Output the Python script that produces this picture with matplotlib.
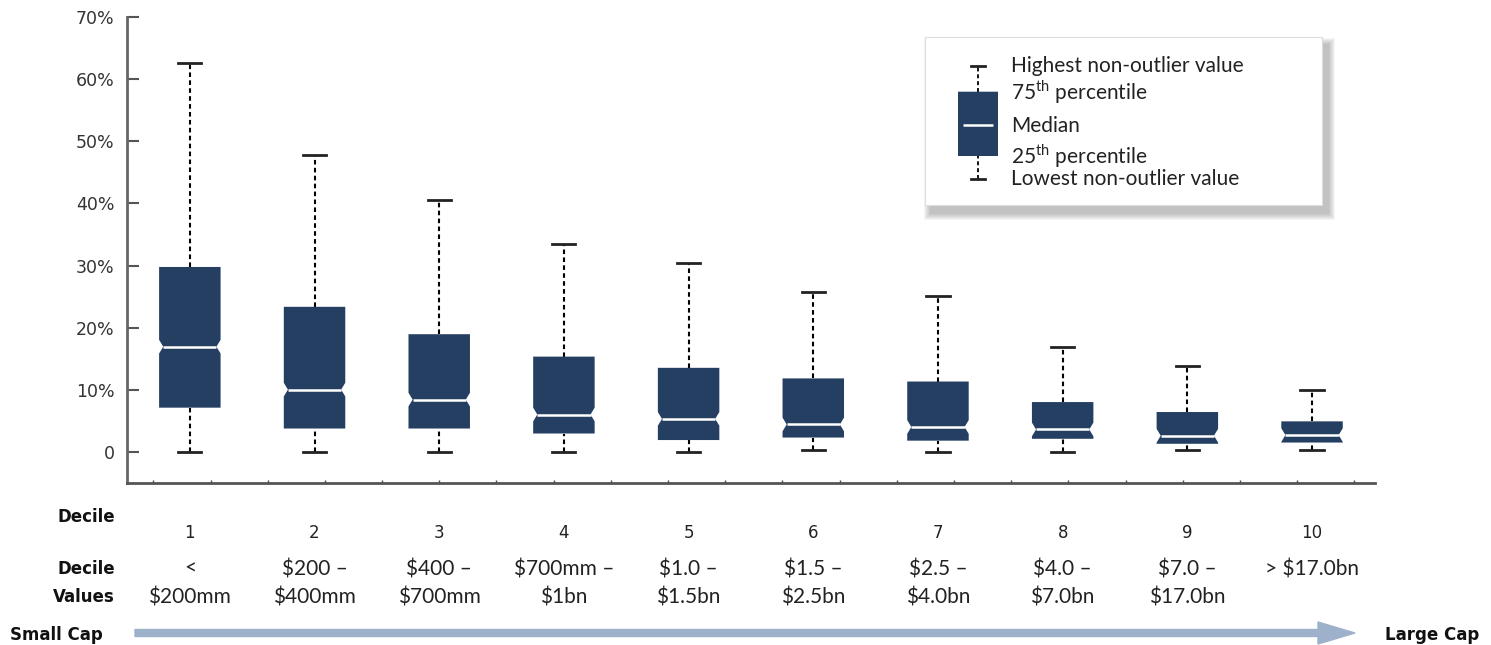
import matplotlib
matplotlib.use("Agg")
import matplotlib.pyplot as plt
from matplotlib.patches import Polygon, Rectangle, FancyArrow
from matplotlib.ticker import FuncFormatter, MultipleLocator
from matplotlib.transforms import blended_transform_factory

# values, in percent
deciles = ["1", "2", "3", "4", "5", "6", "7", "8", "9", "10"]
decile_values = ["<\n\\$200mm", "\\$200 –\n\\$400mm", "\\$400 –\n\\$700mm", "\\$700mm –\n\\$1bn",
                 "\\$1.0 –\n\\$1.5bn", "\\$1.5 –\n\\$2.5bn", "\\$2.5 –\n\\$4.0bn", "\\$4.0 –\n\\$7.0bn",
                 "\\$7.0 –\n\\$17.0bn", "> \\$17.0bn"]
whis_lo = [0.0, 0.0, 0.0, 0.0, 0.0, 0.4, 0.0, 0.0, 0.4, 0.4]
q1 = [7.2, 3.85, 3.85, 3.05, 2.0, 2.4, 1.9, 2.2, 1.4, 1.6]
median = [17.0, 10.1, 8.5, 6.1, 5.4, 4.5, 4.1, 3.7, 2.7, 2.8]
q3 = [29.8, 23.4, 19.0, 15.4, 13.6, 11.9, 11.4, 8.1, 6.5, 5.0]
whis_hi = [62.6, 47.8, 40.6, 33.5, 30.5, 25.7, 25.1, 17.0, 13.9, 10.1]
yticks = [0, 10, 20, 30, 40, 50, 60, 70]

legend_labels = ["Highest non-outlier value", "75$^{\\mathregular{th}}$ percentile", "Median",
                 "25$^{\\mathregular{th}}$ percentile", "Lowest non-outlier value"]
# legend sample box, in pixels below the top of the legend frame
legend_sample = [142, 119, 88, 54.7, 28.7]

NAVY = "#243f62"
ARROW = "#9db2ca"
W, H = 1491, 645


def draw_box(ax, x, lo, a, m, b, hi, width, nh, nd, capw, lw=1.5):
    l, r = x - width / 2, x + width / 2
    pts = [(l, a), (r, a), (r, m - nh), (r - nd, m), (r, m + nh), (r, b),
           (l, b), (l, m + nh), (l + nd, m), (l, m - nh)]
    ax.add_patch(Polygon(pts, closed=True, facecolor=NAVY, edgecolor="none", zorder=3))
    ax.plot([l + nd, r - nd], [m, m], color="white", lw=1.8, zorder=4, solid_capstyle="butt")
    ax.plot([x, x], [b, hi], color="black", lw=lw, ls=(0, (2.2, 1.6)), zorder=2)
    ax.plot([x, x], [lo, a], color="black", lw=lw, ls=(0, (2.2, 1.6)), zorder=2)
    for v in (lo, hi):
        ax.plot([x - capw / 2, x + capw / 2], [v, v], color="#222222", lw=2, zorder=2)


fig = plt.figure(figsize=(W / 100, H / 100), dpi=100)
ax = fig.add_axes([127 / W, 1 - 483 / H, (1375 - 127) / W, (483 - 16.7) / H])

pos = list(range(1, len(deciles) + 1))
for i, p in enumerate(pos):
    draw_box(ax, p, whis_lo[i], q1[i], median[i], q3[i], whis_hi[i],
             width=0.493, nh=1.1, nd=0.033, capw=0.185)

ax.set_xlim(0.496, 10.505)
ax.set_ylim(-4.9, 70)
ax.set_yticks(yticks)
ax.yaxis.set_major_formatter(FuncFormatter(lambda v, _: "0" if v == 0 else f"{v:.0f}%"))
ax.tick_params(axis="y", direction="in", length=8.5, width=1.5, color="#555555",
               labelsize=12.5, labelcolor="#333333", pad=9)
ax.set_xticks([])
ax.xaxis.set_minor_locator(MultipleLocator(0.4587, offset=0.707))
ax.tick_params(axis="x", which="minor", direction="in", length=2.5, width=1, color="#444444")
for s in ("top", "right"):
    ax.spines[s].set_visible(False)
ax.spines["left"].set_color("#666666")
ax.spines["left"].set_linewidth(2)
ax.spines["bottom"].set_color("#555555")
ax.spines["bottom"].set_linewidth(2)

# labels under the axis
tr = blended_transform_factory(ax.transData, fig.transFigure)
for p, d, v in zip(pos, deciles, decile_values):
    ax.text(p, 1 - 533 / H, d, transform=tr, ha="center", va="center", fontsize=12,
            color="#222222", family="DejaVu Sans")
    ax.text(p, 1 - 559 / H, v, transform=tr, ha="center", va="top", fontsize=15,
            color="#222222", family="Lato", linespacing=1.53)

bold = dict(fontsize=12, fontweight="bold", color="#111111", family="DejaVu Sans")
fig.text(115 / W, 1 - 517 / H, "Decile", ha="right", va="center", **bold)
fig.text(115 / W, 1 - 560 / H, "Decile\nValues", ha="right", va="top", linespacing=1.75, **bold)
fig.text(10 / W, 1 - 635 / H, "Small Cap", ha="left", va="center", **bold)
fig.text(1385 / W, 1 - 635 / H, "Large Cap", ha="left", va="center", **bold)

fig.add_artist(FancyArrow(135 / W, 1 - 633 / H, (1355 - 135) / W, 0, width=7 / H,
                          head_width=22 / H, head_length=37 / W, length_includes_head=True,
                          color=ARROW, transform=fig.transFigure, zorder=1))

# legend frame with a soft shadow
lx0, ly0, lx1, ly1 = 925, 37, 1322, 205
for k in range(7):
    g = 7 - k
    fig.add_artist(Rectangle(((lx0 + 6 - g) / W, 1 - (ly1 + 8 + g) / H),
                             (lx1 - lx0 + 2 * g) / W, (ly1 - ly0 + 2 * g) / H,
                             transform=fig.transFigure, facecolor="#555555",
                             edgecolor="none", alpha=0.06, zorder=1))
lax = fig.add_axes([lx0 / W, 1 - ly1 / H, (lx1 - lx0) / W, (ly1 - ly0) / H], zorder=2)
lax.set_xlim(0, lx1 - lx0)
lax.set_ylim(ly1 - ly0, 0)
lax.set_xticks([])
lax.set_yticks([])
for s in lax.spines.values():
    s.set_color("#dddddd")
    s.set_linewidth(0.8)
lo_, a_, m_, b_, hi_ = legend_sample
draw_box(lax, 53, lo_, a_, m_, b_, hi_, width=40, nh=10, nd=5, capw=14, lw=1.3)
label_base = [34.5, 62.5, 95.5, 126.5, 148]
for ty, t in zip(label_base, legend_labels):
    lax.text(86, ty, t, ha="left", va="baseline", fontsize=15, family="Lato", color="#222222")

fig.savefig("out.png", dpi=100)
